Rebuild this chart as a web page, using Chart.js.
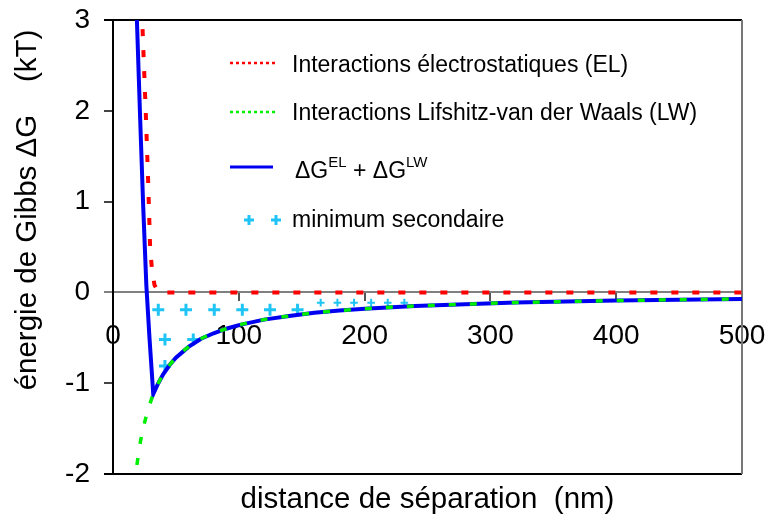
<!DOCTYPE html>
<html>
<head>
<meta charset="utf-8">
<script src="https://cdn.jsdelivr.net/npm/chart.js@4.4.1/dist/chart.umd.min.js"></script>
<style>
  html, body { margin: 0; padding: 0; background: #ffffff; }
  #wrap { width: 770px; height: 524px; position: relative; }
</style>
</head>
<body>
<div id="wrap"><canvas id="c" width="770" height="524"></canvas></div>
<script>
// ---- data ----
const xTickValues = [0, 100, 200, 300, 400, 500];
const yTickValues = [-2, -1, 0, 1, 2, 3];

const elDistance = [23.5, 26, 28, 29.5, 31, 33, 36, 40, 60, 100, 150, 200, 300, 400, 500];
const elEnergy   = [2.9, 2.0, 1.2, 0.5, 0.25, 0.08, 0.01, 0, 0, 0, 0, 0, 0, 0, 0];

const lwDistance = [19, 22, 25, 28, 32, 36, 40, 45, 50, 60, 70, 80, 90, 100, 120, 140, 160, 180, 200, 240, 280, 320, 360, 400, 450, 500];
const lwEnergy   = [-1.9, -1.63, -1.44, -1.29, -1.12, -1.0, -0.9, -0.8, -0.72, -0.6, -0.51, -0.45, -0.4, -0.36, -0.3, -0.26, -0.225, -0.2, -0.18, -0.15, -0.13, -0.112, -0.1, -0.09, -0.08, -0.072];

const totalDistance = [19, 21.5, 24, 26.5, 29, 32, 36, 40, 45, 50, 60, 70, 80, 90, 100, 120, 140, 160, 180, 200, 240, 280, 320, 360, 400, 450, 500];
const totalEnergy   = [3.0, 1.95, 0.95, 0.08, -0.5, -1.12, -1.0, -0.9, -0.8, -0.72, -0.6, -0.51, -0.45, -0.4, -0.36, -0.3, -0.26, -0.225, -0.2, -0.18, -0.15, -0.13, -0.112, -0.1, -0.09, -0.08, -0.072];

const minBigX = [36, 58, 80.5, 102.8, 124.8, 146.7, 41.3, 63.8, 41.3];
const minBigY = [-0.19, -0.19, -0.19, -0.19, -0.19, -0.19, -0.52, -0.52, -0.81];
const minSmallX = [165.1, 178.4, 191.6, 205.2, 218.4, 231.6];
const minSmallY = [-0.113, -0.113, -0.113, -0.113, -0.113, -0.113];

const legendLabels = ['Interactions électrostatiques (EL)', 'Interactions Lifshitz-van der Waals (LW)', 'minimum secondaire'];
const xTitle = 'distance de séparation  (nm)';
const yTitle = 'énergie de Gibbs ΔG    (kT)';

const toPts = (xs, ys) => xs.map((x, i) => ({x: x, y: ys[i]}));

const FONT = '"Liberation Sans", Arial, Helvetica, sans-serif';
const RED = '#ff0000', GREEN = '#00ee00', BLUE = '#0000f0', CYAN = '#1ec4f4';

const zeroPad = s => { s.paddingTop = 0; s.paddingBottom = 0; s.paddingLeft = 0; s.paddingRight = 0; };

const decorPlugin = {
  id: 'decor',
  beforeDatasetsDraw(chart) {
    const ctx = chart.ctx, a = chart.chartArea;
    ctx.save();
    ctx.lineWidth = 2;
    ctx.strokeStyle = '#000';
    ctx.beginPath(); ctx.moveTo(104, a.top); ctx.lineTo(a.right, a.top); ctx.stroke();
    ctx.beginPath(); ctx.moveTo(104, a.bottom); ctx.lineTo(a.right, a.bottom); ctx.stroke();
    ctx.strokeStyle = '#777';
    ctx.beginPath(); ctx.moveTo(a.right, a.top); ctx.lineTo(a.right, a.bottom); ctx.stroke();
    ctx.restore();
  },
  afterDraw(chart) {
    const ctx = chart.ctx, a = chart.chartArea;
    ctx.save();
    // axis titles
    ctx.fillStyle = '#000';
    ctx.font = '29.5px ' + FONT;
    ctx.textAlign = 'center';
    ctx.textBaseline = 'alphabetic';
    ctx.fillText(xTitle, (a.left + a.right) / 2, 508);
    ctx.save();
    ctx.translate(36, 210);
    ctx.rotate(-Math.PI / 2);
    ctx.fillText(yTitle, 0, 0);
    ctx.restore();

    // legend
    ctx.textAlign = 'left';
    ctx.font = '23px ' + FONT;
    ctx.lineWidth = 2.5;
    ctx.setLineDash([3, 3]);
    ctx.strokeStyle = RED;
    ctx.beginPath(); ctx.moveTo(230, 63); ctx.lineTo(275, 63); ctx.stroke();
    ctx.strokeStyle = GREEN;
    ctx.beginPath(); ctx.moveTo(230, 112); ctx.lineTo(275, 112); ctx.stroke();
    ctx.setLineDash([]);
    ctx.lineWidth = 3;
    ctx.strokeStyle = BLUE;
    ctx.beginPath(); ctx.moveTo(230, 167); ctx.lineTo(273, 167); ctx.stroke();

    ctx.fillText(legendLabels[0], 292, 72);
    ctx.fillText(legendLabels[1], 292, 120);
    let x = 295;
    const parts = [['ΔG', 23, 178], ['EL', 15, 167], [' + ΔG', 23, 178], ['LW', 15, 167]];
    parts.forEach(p => {
      ctx.font = p[1] + 'px ' + FONT;
      ctx.fillText(p[0], x, p[2]);
      x += ctx.measureText(p[0]).width;
    });
    ctx.font = '23px ' + FONT;
    ctx.fillText(legendLabels[2], 292, 227);

    ctx.strokeStyle = CYAN;
    ctx.lineWidth = 3;
    [249, 276].forEach(cx => {
      ctx.beginPath();
      ctx.moveTo(cx - 5, 220); ctx.lineTo(cx + 5, 220);
      ctx.moveTo(cx, 215); ctx.lineTo(cx, 225);
      ctx.stroke();
    });
    ctx.restore();
  }
};

new Chart(document.getElementById('c'), {
  type: 'scatter',
  data: {
    datasets: [
      {
        label: legendLabels[1],
        data: toPts(lwDistance, lwEnergy),
        showLine: true,
        borderColor: GREEN,
        borderWidth: 3.5,
        borderDash: [7, 14],
        pointRadius: 0,
        cubicInterpolationMode: 'monotone',
        order: 0
      },
      {
        label: legendLabels[0],
        data: toPts(elDistance, elEnergy),
        showLine: true,
        borderColor: RED,
        borderWidth: 4,
        borderDash: [7, 14],
        pointRadius: 0,
        tension: 0,
        order: 1
      },
      {
        label: 'ΔG EL + ΔG LW',
        data: toPts(totalDistance, totalEnergy),
        showLine: true,
        borderColor: BLUE,
        borderWidth: 4,
        pointRadius: 0,
        tension: 0,
        order: 2
      },
      {
        label: legendLabels[2],
        data: toPts(minBigX, minBigY),
        showLine: false,
        pointStyle: 'cross',
        pointRadius: 6,
        pointBorderWidth: 3,
        borderColor: CYAN,
        backgroundColor: CYAN,
        order: 3
      },
      {
        label: legendLabels[2] + ' ',
        data: toPts(minSmallX, minSmallY),
        showLine: false,
        pointStyle: 'cross',
        pointRadius: 3.8,
        pointBorderWidth: 2,
        borderColor: CYAN,
        backgroundColor: CYAN,
        order: 3
      }
    ]
  },
  options: {
    responsive: false,
    animation: false,
    events: [],
    layout: { padding: { left: 0, top: 20, right: 28, bottom: 50 } },
    plugins: {
      legend: { display: false },
      tooltip: { enabled: false },
      title: { display: false }
    },
    scales: {
      x: {
        type: 'linear',
        position: { y: 0 },
        min: 0, max: 500,
        afterBuildTicks: s => { s.ticks = xTickValues.map(v => ({value: v})); },
        afterFit: zeroPad,
        ticks: {
          font: { size: 28, family: FONT },
          color: '#000',
          padding: 19,
          maxRotation: 0,
          autoSkip: false
        },
        grid: { drawOnChartArea: false, drawTicks: true, tickLength: 8, color: '#555', lineWidth: 2 },
        border: { color: '#808080', width: 2 }
      },
      y: {
        type: 'linear',
        position: 'left',
        min: -2, max: 3,
        afterBuildTicks: s => { s.ticks = yTickValues.map(v => ({value: v})); },
        afterFit: s => { s.width = 113; zeroPad(s); },
        ticks: {
          font: { size: 28, family: FONT },
          color: '#000',
          padding: 14
        },
        grid: {
          drawOnChartArea: false, drawTicks: true, tickLength: 9, lineWidth: 2,
          color: ctx => (ctx.tick && ctx.tick.value === 0) ? '#808080' : '#444'
        },
        border: { color: '#000', width: 2 }
      }
    }
  },
  plugins: [decorPlugin]
});
</script>
</body>
</html>
